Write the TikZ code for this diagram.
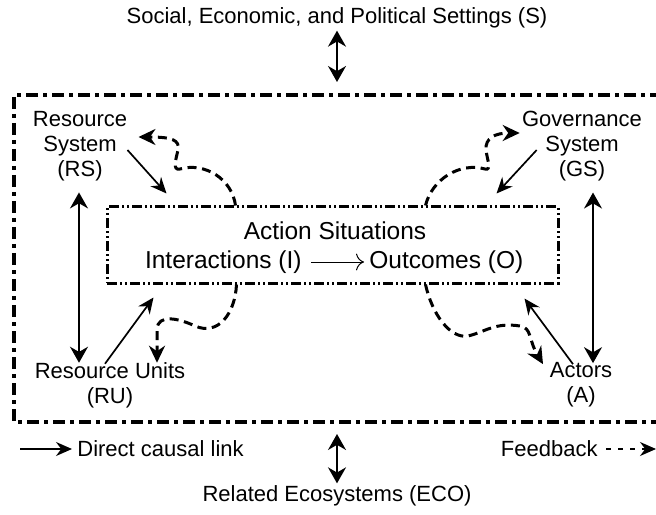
\documentclass[tikz,border=0pt]{standalone}
\usepackage{fontspec}
\setmainfont{Liberation Sans}
\usetikzlibrary{arrows.meta,positioning,calc}

\begin{document}
\begin{tikzpicture}[
  x=0.5pt, y=0.5pt,
  lbl/.style={font=\fontsize{11}{12.6}\selectfont, align=center, inner sep=1pt},
  aslbl/.style={font=\fontsize{12.25}{15}\selectfont, inner sep=1pt},
  arr/.style={-{Stealth[length=8pt,width=7pt]}, line width=0.85pt},
  dbl/.style={{Stealth[length=8pt,width=9pt]}-{Stealth[length=8pt,width=9pt]}, line width=0.85pt},
  fb/.style={-{Stealth[length=8.5pt,width=8pt]}, line width=1.5pt, dash pattern=on 4.5pt off 2.8pt},
  outerbox/.style={line width=2.2pt, dash pattern=on 6pt off 2.5pt on 2pt off 2.5pt},
  asbox/.style={draw, line width=1.5pt, dash pattern=on 5pt off 1.5pt on 1pt off 1.5pt on 1pt off 1.5pt,
    minimum width=225.5pt, minimum height=38pt},
]
  \useasboundingbox (0,0) rectangle (656,514);

  % Settings
  \node[lbl] (S) at (337,496) {Social, Economic, and Political Settings (S)};
  \coordinate (Stop) at (337,432);
  \draw[dbl] (S) -- (Stop);

  % Outer frame
  \draw[outerbox] (662,419) -- (14,419) -- (14,92) -- (662,92);

  % Nodes
  \node[lbl] (RS) at (80,368) {Resource\\System\\(RS)};
  \node[lbl] (GS) at (582,368) {Governance\\System\\(GS)};
  \node[lbl] (RU) at (110,129) {Resource Units\\(RU)};
  \node[lbl] (A) at (581,129) {Actors\\(A)};

  % Action situations
  \node[asbox] (AS) at (332.5,269) {};
  \node[aslbl] (title) at (335,283) {Action Situations};
  \node[aslbl, anchor=east] (I) at (304,252) {Interactions (I)};
  \node[aslbl, anchor=west] (O) at (367,252) {Outcomes (O)};
  \draw[-{To[length=4pt]}, line width=0.5pt, shorten <=3.5pt, shorten >=1.5pt] (I) -- (O);

  % Direct causal links
  \draw[arr] ($(RS.east)+(-2,-4)$) -- ($(AS.north west)+(61,12)$);
  \draw[arr] ($(GS.west)+(17,-4)$) -- ($(AS.north east)+(-63,12)$);
  \draw[arr] ($(RU.north)+(-5,-4)$) -- ($(AS.south west)+(48,-13)$);
  \draw[arr] ($(A.north)+(-8,-4)$) -- ($(AS.south east)+(-35,-14)$);
  \draw[dbl] ($(RS.south)+(-1,-9)$) -- ($(RS.south |- RU.north)+(-1,-3)$);
  \draw[dbl] ($(GS.south)+(11,-9)$) -- ($(GS.south |- A.north)+(11,-3)$);

  % Feedbacks
  \draw[fb] ($(AS.north west)+(130,0)$) .. controls (232,335) and (205,352) .. (180,345)
    .. controls (172,343) and (176,355) .. (178,364)
    .. controls (180,374) and (172,377) .. ($(RS.east)+(9,9)$);
  \draw[fb] ($(AS.north west)+(320,0)$) .. controls (432,335) and (460,352) .. (485,345)
    .. controls (492,343) and (487,355) .. (486,364)
    .. controls (485,376) and (495,381) .. ($(GS.west)+(0,13)$);
  \draw[fb] ($(AS.south west)+(131,0)$) .. controls (235,200) and (218,178) .. (195,188)
    .. controls (178,196) and (158,200) .. (157,185) -- ($(RU.north)+(47,-3)$);
  \draw[fb] ($(AS.south west)+(320,0)$) .. controls (432,200) and (450,175) .. (468,178)
    .. controls (485,182) and (495,192) .. (520,188)
    .. controls (532,186) and (528,175) .. ($(A.north)+(-38,-4)$);

  % Legend
  \node[lbl, anchor=west] (dlink) at (75,65) {Direct causal link};
  \coordinate (dstart) at (20,65);
  \draw[arr, shorten >=1.5pt] (dstart) -- (dlink.west);
  \node[lbl, anchor=east] (fblink) at (600,65) {Feedback};
  \coordinate (fbend) at (656,65);
  \draw[-{Stealth[length=8pt,width=7pt]}, line width=0.6pt, dash pattern=on 2.5pt off 3.5pt,
    shorten <=3pt] (fblink.east) -- (fbend);

  % Related ecosystems
  \node[lbl] (ECO) at (337,18) {Related Ecosystems (ECO)};
  \coordinate (Ebot) at (337,80);
  \draw[dbl] (Ebot) -- (ECO);
\end{tikzpicture}
\end{document}
